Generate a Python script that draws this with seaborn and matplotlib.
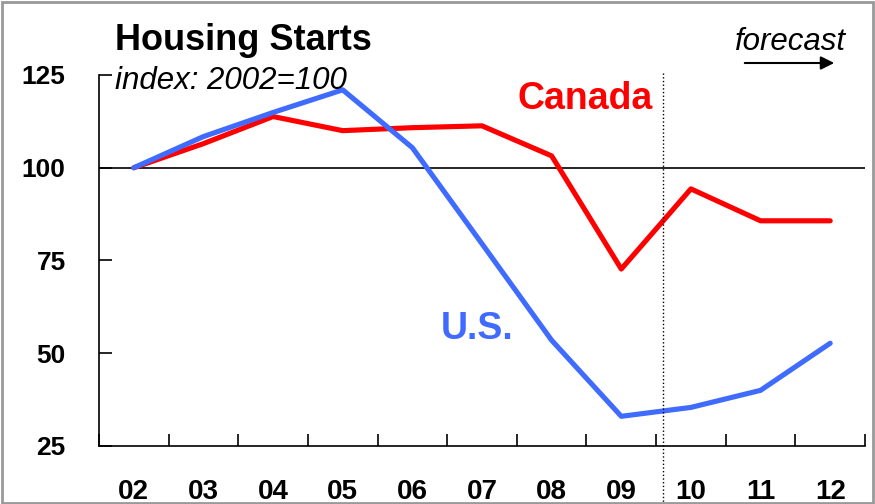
import pandas as pd
import seaborn as sns
import matplotlib.pyplot as plt
from matplotlib.patches import Rectangle

# Dados (indice 2002=100)
years = ['02', '03', '04', '05', '06', '07', '08', '09', '10', '11', '12']
canada = [100, 106.5, 113.8, 110.0, 110.8, 111.3, 103.2, 72.7, 94.3, 85.7, 85.7]
us = [100, 108.4, 114.9, 121.0, 105.4, 79.5, 53.5, 33.0, 35.4, 40.0, 52.7]

df = pd.DataFrame({
    'ano': list(range(len(years))) * 2,
    'indice': canada + us,
    'pais': ['Canada'] * len(years) + ['U.S.'] * len(years),
})

sns.set_style('white')
plt.rcParams['font.family'] = ['Liberation Sans', 'DejaVu Sans']
plt.rcParams['text.color'] = 'black'
plt.rcParams['xtick.color'] = 'black'
plt.rcParams['ytick.color'] = 'black'
plt.rcParams['axes.edgecolor'] = 'black'

fig = plt.figure(figsize=(8.75, 5.04), dpi=100)
ax = fig.add_axes([0.1131, 0.1151, 0.8755, 0.7361])

sns.lineplot(data=df, x='ano', y='indice', hue='pais',
             palette={'Canada': '#FF0000', 'U.S.': '#3F6BFF'},
             linewidth=3.7, legend=False, ax=ax)

ax.axhline(100, color='black', linewidth=1.2, zorder=1)
ax.axvline(7.6, ymin=-0.16, ymax=1.008, color='black', linestyle=':',
           linewidth=1.0, clip_on=False)

ax.set_xlim(-0.5, len(years) - 0.5)
ax.set_ylim(25, 125)
ax.set_xlabel('')
ax.set_ylabel('')

# eixo x: ticks nas fronteiras, rotulos no centro
ax.set_xticks([i + 0.5 for i in range(-1, len(years))])
ax.set_xticklabels([])
ax.set_xticks(range(len(years)), minor=True)
ax.set_xticklabels(years, minor=True, fontsize=20, fontweight='bold')
ax.tick_params(axis='x', which='major', bottom=True, direction='in',
               length=9, width=1.2)
ax.tick_params(axis='x', which='minor', bottom=True, length=0, pad=24)

ax.set_yticks([25, 50, 75, 100, 125])
ax.tick_params(axis='y', left=True, direction='in', length=9, width=1.2,
               pad=24)
for t in ax.get_yticklabels():
    t.set_fontsize(19)
    t.set_fontweight('bold')

sns.despine(ax=ax)
ax.spines['left'].set_linewidth(1.2)
ax.spines['bottom'].set_linewidth(1.2)

# textos
fig.text(115 / 875, 1 - 41 / 504, 'Housing Starts', fontsize=26,
         fontweight='bold', va='center', ha='left')
fig.text(115 / 875, 1 - 81 / 504, 'index: 2002=100', fontsize=22.5,
         style='italic', va='center', ha='left')
fig.text(846 / 875, 1 - 42 / 504, 'forecast', fontsize=22.5,
         style='italic', va='center', ha='right')
fig.add_artist(plt.Annotation('', xy=(837 / 875, 1 - 63 / 504),
                              xytext=(742 / 875, 1 - 63 / 504),
                              xycoords='figure fraction',
                              arrowprops=dict(arrowstyle='-|>', color='black',
                                              lw=1.5, mutation_scale=20)))
ax.text(6.48, 118.6, 'Canada', color='#FF0000', fontsize=27,
        fontweight='bold', ha='center', va='center')
ax.text(4.93, 56.5, 'U.S.', color='#3F6BFF', fontsize=27,
        fontweight='bold', ha='center', va='center')

# moldura cinza
fig.add_artist(Rectangle((0.002, 0.002), 0.996, 0.994,
                         transform=fig.transFigure, fill=False,
                         edgecolor='#999999', linewidth=2))

plt.savefig('out.png', dpi=100)
